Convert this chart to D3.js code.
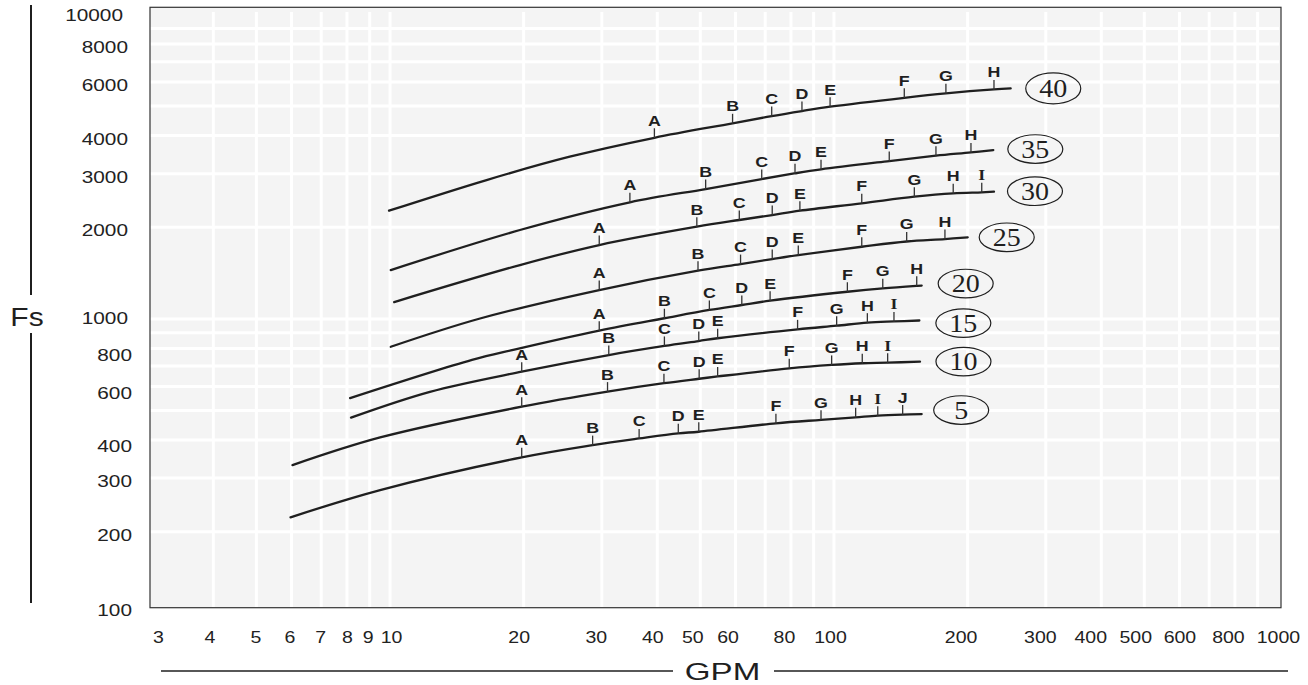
<!DOCTYPE html>
<html><head><meta charset="utf-8">
<script src="https://cdn.jsdelivr.net/npm/d3@7/dist/d3.min.js"></script>
<style>
html,body{margin:0;padding:0;background:#fff;}
svg{display:block;}
</style></head><body>
<svg id="chart" width="1308" height="685"></svg>
<script>
// ---- tick labels ----
const xTickLabels = [3,4,5,6,7,8,9,10,20,30,40,50,60,80,100,200,300,400,500,600,800,1000];
const yTickLabels = [100,200,300,400,600,800,1000,2000,3000,4000,6000,8000,10000];

// ---- curve labels ----
const curveLabels = ["5","10","15","20","25","30","35","40"];

// ---- series (GPM, Fs) with marked points ----
const curve5GPM   = [5.97, 9.5, 19.8, 28.6, 36.4, 44.6, 49.6, 74.0, 93.5, 111.9, 125.5, 142.8, 157.6];
const curve5Fs    = [223, 274, 351, 385, 405, 421, 426, 454, 466, 475, 481, 485, 487];
const curve5Marks = ["", "", "A","B","C","D","E","F","G","H","I","J",""];

const curve10GPM   = [6.03, 9.5, 19.8, 30.9, 41.4, 49.7, 54.7, 79.3, 98.8, 115.8, 132.1, 156.2];
const curve10Fs    = [331, 408, 515, 577, 615, 636, 647, 688, 706, 715, 718, 724];
const curve10Marks = ["", "", "A","B","C","D","E","F","G","H","I",""];

const curve15GPM   = [8.17, 12.3, 19.8, 31.1, 41.5, 49.6, 54.7, 82.8, 101.4, 118.9, 136.5, 155.7];
const curve15Fs    = [474, 576, 671, 761, 815, 846, 864, 924, 950, 972, 981, 988];
const curve15Marks = ["", "", "A","B","C","D","E","F","G","H","I",""];

const curve20GPM   = [8.13, 15.3, 18.95, 29.6, 41.5, 52.4, 62.0, 71.8, 107.2, 128.8, 153.6, 157.6];
const curve20Fs    = [549, 733, 791, 915, 1005, 1070, 1111, 1148, 1228, 1260, 1284, 1287];
const curve20Marks = ["", "", "", "A","B","C","D","E","F","G","H",""];

const curve25GPM   = [10.04, 15.95, 29.6, 49.4, 61.6, 72.6, 83.1, 115.5, 145.8, 177.8, 200.1];
const curve25Fs    = [810, 1003, 1244, 1440, 1514, 1573, 1621, 1726, 1796, 1829, 1854];
const curve25Marks = ["", "", "A","B","C","D","E","F","G","H",""];

const curve30GPM   = [10.22, 19.62, 29.6, 49.1, 61.2, 72.6, 83.8, 115.5, 151.7, 185.6, 215.2, 229.3];
const curve30Fs    = [1136, 1503, 1748, 2008, 2113, 2194, 2267, 2397, 2520, 2585, 2605, 2617];
const curve30Marks = ["", "", "A","B","C","D","E","F","G","H","I",""];

const curve35GPM   = [10.04, 19.62, 34.7, 51.4, 68.75, 81.7, 93.5, 133.2, 169.7, 203.5, 228.5];
const curve35Fs    = [1447, 1959, 2415, 2671, 2880, 3008, 3100, 3300, 3436, 3524, 3587];
const curve35Marks = ["", "", "A","B","C","D","E","F","G","H",""];

const curve40GPM   = [9.95, 16.5, 25.4, 39.4, 59.1, 72.4, 84.7, 98.0, 144.0, 178.7, 229.3, 250.0];
const curve40Fs    = [2267, 2859, 3410, 3936, 4390, 4638, 4818, 4977, 5326, 5507, 5675, 5718];
const curve40Marks = ["", "", "", "A","B","C","D","E","F","G","H",""];

const curveGPM   = [curve5GPM, curve10GPM, curve15GPM, curve20GPM, curve25GPM, curve30GPM, curve35GPM, curve40GPM];
const curveFs    = [curve5Fs, curve10Fs, curve15Fs, curve20Fs, curve25Fs, curve30Fs, curve35Fs, curve40Fs];
const curveMarks = [curve5Marks, curve10Marks, curve15Marks, curve20Marks, curve25Marks, curve30Marks, curve35Marks, curve40Marks];

// ---- style / layout ----
const SANS = "'Liberation Sans', Arial, Helvetica, sans-serif";
const SERIF = "'Liberation Serif', 'Times New Roman', serif";
const INK = "#1f1f1f";
// small hand-set label nudges (pixels) copied from the printed chart
const xLabelNudge = {3:0,4:-4,5:-1,6:-2,7:-1,8:0,9:-2,10:1,20:-5,30:-6,40:-5,50:-8,60:-8,80:-7,100:-4,200:-7,300:-6,400:-11,500:-9,600:0,800:-7,1000:0};
const yLabelNudge = {10000:[-7,-3],1000:[-2,-4],8000:[-2,0],6000:[-2,0],4000:[-2,0],3000:[-2,0],2000:[-2,0],800:[2,3],600:[2,3],400:[2,3],300:[2,0],200:[2,0],100:[2,-1]};
// ellipse badge offset from each curve's end (pixels)
const badgeOffset = {"40":[42.6,0],"35":[42,-1],"30":[41,-0.5],"25":[39,0],"20":[44,-2],"15":[44,2.6],"10":[43.5,0],"5":[39.5,-4]};

const svg = d3.select("#chart");
const pLeft = 150, pRight = 1281, pTop = 7.3, pBottom = 607.7;
const x = d3.scaleLog().domain([2.88, 1016]).range([pLeft, pRight]);
const y = d3.scaleLog().domain([100, 200, 10558]).range([pBottom, 531.7, pTop]);

// plot background
svg.append("rect").attr("x", pLeft).attr("y", pTop).attr("width", pRight-pLeft).attr("height", pBottom-pTop)
  .attr("fill", "#f4f4f4");

// grid
const xGrid = [], yGrid = [];
[1,10,100].forEach(d => { for (let m = 1; m <= 9; m++) { const v = d*m; if (v >= 4 && v <= 900) xGrid.push(v); } });
[100,1000].forEach(d => { for (let m = 1; m <= 9; m++) { const v = d*m; if (v >= 200 && v <= 9000) yGrid.push(v); } });
const grid = svg.append("g").attr("stroke", "#ffffff").attr("stroke-width", 3);
grid.selectAll("line.v").data(xGrid).join("line").attr("class","v")
  .attr("x1", d => x(d)).attr("x2", d => x(d)).attr("y1", 12).attr("y2", pBottom);
grid.selectAll("line.h").data(yGrid).join("line").attr("class","h")
  .attr("x1", pLeft).attr("x2", 1279).attr("y1", d => y(d)).attr("y2", d => y(d));

// border
svg.append("rect").attr("x", pLeft).attr("y", pTop).attr("width", pRight-pLeft).attr("height", pBottom-pTop)
  .attr("fill", "none").attr("stroke", "#333").attr("stroke-width", 1.2);

// x axis
const gx = svg.append("g").attr("transform", "translate(0,642.5)")
  .call(d3.axisBottom(x).tickValues(xTickLabels).tickFormat(d3.format("d")).tickSize(0));
gx.select(".domain").remove();
gx.attr("font-size", 16).attr("font-family", SANS).attr("color", "#222");
gx.selectAll("text").attr("y", 0).attr("dy", null)
  .attr("transform", d => `translate(${xLabelNudge[d] || 0},0) scale(1.22,1)`);

// y axis
const gy = svg.append("g").attr("transform", "translate(130,0)")
  .call(d3.axisLeft(y).tickValues(yTickLabels).tickFormat(d3.format("d")).tickSize(0).tickPadding(0));
gy.select(".domain").remove();
gy.attr("font-size", 16).attr("font-family", SANS).attr("color", "#222");
gy.selectAll("text").attr("transform", d => {
  const n = yLabelNudge[d] || [0,0];
  return `translate(${n[0]},${3.5 + n[1]}) scale(1.3,1)`;
});

// axis titles with rules
svg.append("line").attr("x1", 31).attr("x2", 31).attr("y1", 5).attr("y2", 295).attr("stroke", INK).attr("stroke-width", 2);
svg.append("line").attr("x1", 31).attr("x2", 31).attr("y1", 333).attr("y2", 603).attr("stroke", INK).attr("stroke-width", 2);
svg.append("text").attr("transform", "translate(27,325.7) scale(1.2,1)").attr("text-anchor", "middle")
  .attr("font-family", SANS).attr("font-size", 25).attr("fill", INK).text("Fs");

svg.append("line").attr("x1", 161).attr("x2", 673).attr("y1", 671).attr("y2", 671).attr("stroke", INK).attr("stroke-width", 1.6);
svg.append("line").attr("x1", 774).attr("x2", 1288).attr("y1", 671).attr("y2", 671).attr("stroke", INK).attr("stroke-width", 1.6);
svg.append("text").attr("transform", "translate(722.5,680) scale(1.38,1)").attr("text-anchor", "middle")
  .attr("font-family", SANS).attr("font-size", 24).attr("fill", INK).text("GPM");

// curves
const line = d3.line().x(d => x(d[0])).y(d => y(d[1])).curve(d3.curveCatmullRom.alpha(0.5));
const gc = svg.append("g");
curveLabels.forEach((lab, i) => {
  const pts = curveGPM[i].map((g, j) => [g, curveFs[i][j], curveMarks[i][j]]);
  gc.append("path").datum(pts).attr("d", line).attr("fill", "none")
    .attr("stroke", INK).attr("stroke-width", 2.3).attr("stroke-linecap", "round");
  const marked = pts.filter(p => p[2] !== "");
  gc.selectAll(null).data(marked).join("line")
    .attr("x1", d => x(d[0])).attr("x2", d => x(d[0]))
    .attr("y1", d => y(d[1]) + 0.5).attr("y2", d => y(d[1]) - 9.5)
    .attr("stroke", "#333").attr("stroke-width", 1.3);
  gc.selectAll(null).data(marked).join("text")
    .attr("transform", d => `translate(${x(d[0])},${y(d[1]) - 12}) scale(1.15,1)`)
    .attr("text-anchor", "middle")
    .attr("font-family", d => d[2] === "I" ? SERIF : SANS)
    .attr("font-weight", "bold").attr("font-size", 15.5).attr("fill", INK)
    .text(d => d[2]);
  const last = pts[pts.length - 1];
  const off = badgeOffset[lab];
  const cx = x(last[0]) + off[0], cy = y(last[1]) + off[1];
  gc.append("ellipse").attr("cx", cx).attr("cy", cy).attr("rx", 27.5).attr("ry", lab === "40" ? 15.5 : 14.3)
    .attr("fill", "none").attr("stroke", INK).attr("stroke-width", 1.2);
  gc.append("text").attr("transform", `translate(${cx},${cy + 8.6}) scale(1.12,1)`)
    .attr("text-anchor", "middle").attr("font-family", SERIF).attr("font-size", 25).attr("fill", INK)
    .text(lab);
});
</script>
</body></html>
